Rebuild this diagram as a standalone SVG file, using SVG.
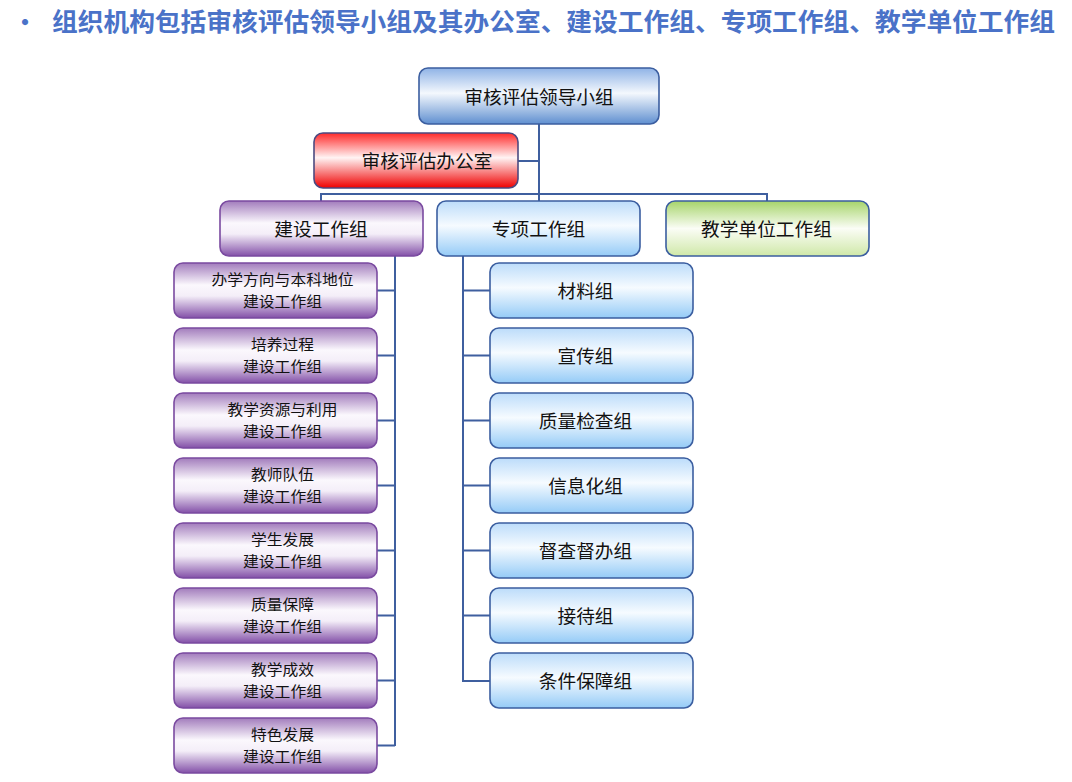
<svg xmlns="http://www.w3.org/2000/svg" width="1072" height="782" viewBox="0 0 1072 782">
<defs>
<linearGradient id="gDark" x1="0" y1="0" x2="0" y2="1">
<stop offset="0" stop-color="#8fb3e6"/><stop offset="0.45" stop-color="#f4f8fd"/><stop offset="1" stop-color="#5f8fd0"/>
</linearGradient>
<linearGradient id="gLight" x1="0" y1="0" x2="0" y2="1">
<stop offset="0" stop-color="#bcdcfa"/><stop offset="0.45" stop-color="#f6fbff"/><stop offset="1" stop-color="#95cbf7"/>
</linearGradient>
<linearGradient id="gRed" x1="0" y1="0" x2="0" y2="1">
<stop offset="0" stop-color="#ff2a2a"/><stop offset="0.45" stop-color="#fff4f4"/><stop offset="1" stop-color="#f00000"/>
</linearGradient>
<linearGradient id="gGreen" x1="0" y1="0" x2="0" y2="1">
<stop offset="0" stop-color="#a6d46a"/><stop offset="0.5" stop-color="#fbfdf6"/><stop offset="1" stop-color="#cfe8a8"/>
</linearGradient>
<linearGradient id="gPurple" x1="0" y1="0" x2="0" y2="1">
<stop offset="0" stop-color="#a27cbc"/><stop offset="0.4" stop-color="#fbf8fd"/><stop offset="0.6" stop-color="#f4eef8"/><stop offset="1" stop-color="#8350a8"/>
</linearGradient>
</defs>
<style>
text{font-family:"Noto Sans CJK SC","Microsoft YaHei",sans-serif;fill:#111;text-anchor:middle}
.b{stroke-width:1.6}
.dark{fill:url(#gDark);stroke:#3b5ea0}
.light{fill:url(#gLight);stroke:#3b5ea0}
.red{fill:url(#gRed);stroke:#4c4a80}
.green{fill:url(#gGreen);stroke:#3b5ea0}
.purple{fill:url(#gPurple);stroke:#7a4aa0}
.t18{font-size:18.7px}
.t15{font-size:14.6px}
#connectors path{fill:none;stroke:#3f5f9f;stroke-width:2}
</style>
<rect width="1072" height="782" fill="#ffffff"/>
<g id="title">
<text x="25" y="31" style="font-size:24px;font-weight:bold;fill:#4a72c8">•</text>
<text x="52" y="31" textLength="1003" lengthAdjust="spacingAndGlyphs" style="font-size:25px;font-weight:bold;fill:#4a72c8;text-anchor:start">组织机构包括审核评估领导小组及其办公室、建设工作组、专项工作组、教学单位工作组</text>
</g>
<g id="connectors">
<path d="M539 124V201"/>
<path d="M518 161H539"/>
<path d="M321 201V194H767V201"/>
<path d="M395 256V746"/>
<path d="M377 290.5H395M377 355.5H395M377 420.5H395M377 485.5H395M377 550.5H395M377 615.5H395M377 680.5H395M377 745.5H395"/>
<path d="M463 256V681H490"/>
<path d="M463 290.5H490M463 355.5H490M463 420.5H490M463 485.5H490M463 550.5H490M463 615.5H490"/>
</g>
<g id="n-leader"><rect class="b dark" x="419" y="68" width="240" height="56" rx="9"/><text class="t18" x="539" y="104">审核评估领导小组</text></g>
<g id="n-office"><rect class="b red" x="314" y="133" width="204" height="55" rx="9"/><text class="t18" x="427" y="168">审核评估办公室</text></g>
<g id="n-build"><rect class="b purple" x="220" y="201" width="203" height="55" rx="9"/><text class="t18" x="321" y="236">建设工作组</text></g>
<g id="n-special"><rect class="b light" x="437" y="201" width="203" height="55" rx="9"/><text class="t18" x="538.5" y="236">专项工作组</text></g>
<g id="n-teach"><rect class="b green" x="666" y="201" width="203" height="55" rx="9"/><text class="t18" x="766.5" y="236">教学单位工作组</text></g>

<g id="n-l1"><rect class="b purple" x="174" y="263" width="203" height="55" rx="9"/><text class="t15" x="282.5" y="285.4" textLength="142" lengthAdjust="spacingAndGlyphs">办学方向与本科地位</text><text class="t15" x="282.5" y="306.8" textLength="79" lengthAdjust="spacingAndGlyphs">建设工作组</text></g>
<g id="n-l2"><rect class="b purple" x="174" y="328" width="203" height="55" rx="9"/><text class="t15" x="282.5" y="350.4" textLength="63" lengthAdjust="spacingAndGlyphs">培养过程</text><text class="t15" x="282.5" y="371.8" textLength="79" lengthAdjust="spacingAndGlyphs">建设工作组</text></g>
<g id="n-l3"><rect class="b purple" x="174" y="393" width="203" height="55" rx="9"/><text class="t15" x="282.5" y="415.4" textLength="110" lengthAdjust="spacingAndGlyphs">教学资源与利用</text><text class="t15" x="282.5" y="436.8" textLength="79" lengthAdjust="spacingAndGlyphs">建设工作组</text></g>
<g id="n-l4"><rect class="b purple" x="174" y="458" width="203" height="55" rx="9"/><text class="t15" x="282.5" y="480.4" textLength="63" lengthAdjust="spacingAndGlyphs">教师队伍</text><text class="t15" x="282.5" y="501.8" textLength="79" lengthAdjust="spacingAndGlyphs">建设工作组</text></g>
<g id="n-l5"><rect class="b purple" x="174" y="523" width="203" height="55" rx="9"/><text class="t15" x="282.5" y="545.4" textLength="63" lengthAdjust="spacingAndGlyphs">学生发展</text><text class="t15" x="282.5" y="566.8" textLength="79" lengthAdjust="spacingAndGlyphs">建设工作组</text></g>
<g id="n-l6"><rect class="b purple" x="174" y="588" width="203" height="55" rx="9"/><text class="t15" x="282.5" y="610.4" textLength="63" lengthAdjust="spacingAndGlyphs">质量保障</text><text class="t15" x="282.5" y="631.8" textLength="79" lengthAdjust="spacingAndGlyphs">建设工作组</text></g>
<g id="n-l7"><rect class="b purple" x="174" y="653" width="203" height="55" rx="9"/><text class="t15" x="282.5" y="675.4" textLength="63" lengthAdjust="spacingAndGlyphs">教学成效</text><text class="t15" x="282.5" y="696.8" textLength="79" lengthAdjust="spacingAndGlyphs">建设工作组</text></g>
<g id="n-l8"><rect class="b purple" x="174" y="718" width="203" height="55" rx="9"/><text class="t15" x="282.5" y="740.4" textLength="63" lengthAdjust="spacingAndGlyphs">特色发展</text><text class="t15" x="282.5" y="761.8" textLength="79" lengthAdjust="spacingAndGlyphs">建设工作组</text></g>

<g id="n-r1"><rect class="b light" x="490" y="263" width="203" height="55" rx="9"/><text class="t18" x="585.5" y="298">材料组</text></g>
<g id="n-r2"><rect class="b light" x="490" y="328" width="203" height="55" rx="9"/><text class="t18" x="585.5" y="363">宣传组</text></g>
<g id="n-r3"><rect class="b light" x="490" y="393" width="203" height="55" rx="9"/><text class="t18" x="585.5" y="428">质量检查组</text></g>
<g id="n-r4"><rect class="b light" x="490" y="458" width="203" height="55" rx="9"/><text class="t18" x="585.5" y="493">信息化组</text></g>
<g id="n-r5"><rect class="b light" x="490" y="523" width="203" height="55" rx="9"/><text class="t18" x="585.5" y="558">督查督办组</text></g>
<g id="n-r6"><rect class="b light" x="490" y="588" width="203" height="55" rx="9"/><text class="t18" x="585.5" y="623">接待组</text></g>
<g id="n-r7"><rect class="b light" x="490" y="653" width="203" height="55" rx="9"/><text class="t18" x="585.5" y="688">条件保障组</text></g>
</svg>
